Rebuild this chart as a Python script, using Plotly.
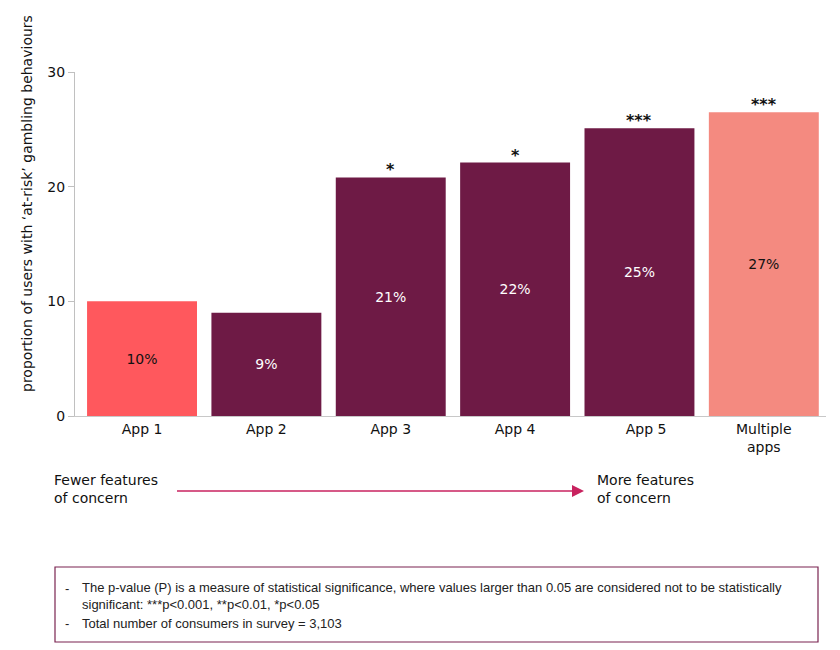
import plotly.graph_objects as go

categories = ["App 1", "App 2", "App 3", "App 4", "App 5", "Multiple apps"]
tick_text = ["App 1", "App 2", "App 3", "App 4", "\u00a0\u00a0\u00a0App 5", "Multiple<br>apps"]
values = [10.0, 9.0, 20.8, 22.1, 25.1, 26.5]
labels = ["10%", "9%", "21%", "22%", "25%", "27%"]
stars = ["", "", "*", "*", "***", "***"]
bar_colors = ["#FF585D", "#6E1A45", "#6E1A45", "#6E1A45", "#6E1A45", "#F48A80"]
text_colors = ["#111111", "#FFFFFF", "#FFFFFF", "#FFFFFF", "#FFFFFF", "#111111"]
y_ticks = [0, 10, 20, 30]

OFF = 8  # page body margin
W, H = 840, 650
# screen positions of the plot area: left 75, right 826, top 72, bottom 416
L, R, T, B = 75 - OFF, W - (826 - OFF), 72 - OFF, H - (416 - OFF)
pw = W - L - R
ph = H - T - B


def px(x):
    return (x - OFF - L) / pw


def py(y):
    return (H - B - (y - OFF)) / ph


FONT = "DejaVu Sans, Verdana, sans-serif"
NARROW = "Liberation Sans Narrow, Arial Narrow, Liberation Sans, sans-serif"

fig = go.Figure()
fig.add_trace(go.Bar(
    x=categories, y=values,
    marker=dict(color=bar_colors, line=dict(width=0)),
    text=labels, textposition="inside", insidetextanchor="middle",
    textangle=0,
    textfont=dict(family=FONT, size=14, color=text_colors),
    width=0.884, hoverinfo="skip",
))

annotations = []
for c, v, s in zip(categories, values, stars):
    if s:
        annotations.append(dict(
            x=c, y=v, xref="x", yref="y", text="<b>" + s + "</b>",
            showarrow=False, yanchor="bottom", yshift=-4,
            font=dict(family=FONT, size=16, color="#111111"),
        ))

annotations.append(dict(
    x=px(27), y=py(204), xref="paper", yref="paper",
    text="proportion of users with \u2018at-risk\u2019 gambling behaviours",
    textangle=-90, showarrow=False, xanchor="center", yanchor="middle",
    font=dict(family=FONT, size=14, color="#111111"),
))
annotations.append(dict(
    x=px(52), y=py(489), xref="paper", yref="paper",
    text="Fewer features<br>of concern", align="left",
    showarrow=False, xanchor="left", yanchor="middle",
    font=dict(family=FONT, size=14, color="#111111"),
))
annotations.append(dict(
    x=px(595), y=py(489), xref="paper", yref="paper",
    text="More features<br>of concern", align="left",
    showarrow=False, xanchor="left", yanchor="middle",
    font=dict(family=FONT, size=14, color="#111111"),
))

fn_font = dict(family=NARROW, size=13, color="#222222")
annotations += [
    dict(x=px(63), y=py(588), xref="paper", yref="paper", text="-",
         showarrow=False, xanchor="left", yanchor="middle", font=fn_font),
    dict(x=px(80), y=py(596), xref="paper", yref="paper",
         text="The p-value (P) is a measure of statistical significance, where values larger than 0.05 are considered not to be statistically<br>significant: ***p&lt;0.001, **p&lt;0.01, *p&lt;0.05",
         align="left", showarrow=False, xanchor="left", yanchor="middle", font=fn_font),
    dict(x=px(63), y=py(623), xref="paper", yref="paper", text="-",
         showarrow=False, xanchor="left", yanchor="middle", font=fn_font),
    dict(x=px(80), y=py(623), xref="paper", yref="paper",
         text="Total number of consumers in survey = 3,103",
         align="left", showarrow=False, xanchor="left", yanchor="middle", font=fn_font),
]

arrow_col = "#C8225F"
shapes = [
    dict(type="line", xref="paper", yref="paper",
         x0=px(177), x1=px(573), y0=py(491), y1=py(491),
         line=dict(color=arrow_col, width=1.3)),
    dict(type="path", xref="paper", yref="paper",
         path=f"M {px(572)} {py(485)} L {px(584)} {py(491)} L {px(572)} {py(497)} Z",
         fillcolor=arrow_col, line=dict(color=arrow_col, width=0)),
    dict(type="rect", xref="paper", yref="paper",
         x0=px(55), x1=px(818), y0=py(642), y1=py(567),
         line=dict(color="#7A2350", width=1.2), fillcolor="rgba(0,0,0,0)"),
]

fig.update_layout(
    width=W, height=H,
    margin=dict(l=L, r=R, t=T, b=B, pad=0),
    paper_bgcolor="white", plot_bgcolor="white",
    showlegend=False,
    bargap=0.116,
    font=dict(family=FONT, size=14, color="#111111"),
    annotations=annotations,
    shapes=shapes,
    xaxis=dict(
        range=[-0.539, 5.5], showgrid=False, zeroline=False,
        showline=True, linecolor="#C8C8C8", linewidth=1,
        tickmode="array", tickvals=categories, ticktext=tick_text,
        ticks="", tickfont=dict(family=FONT, size=14, color="#111111"),
        fixedrange=True,
    ),
    yaxis=dict(
        range=[0, 30], tickvals=y_ticks, showgrid=False, zeroline=False,
        showline=True, linecolor="#C0C0C0", linewidth=1,
        ticks="outside", ticklen=6, tickcolor="#C0C0C0",
        tickfont=dict(family=FONT, size=14, color="#111111"),
        fixedrange=True,
    ),
)

fig.write_html("out.html")
